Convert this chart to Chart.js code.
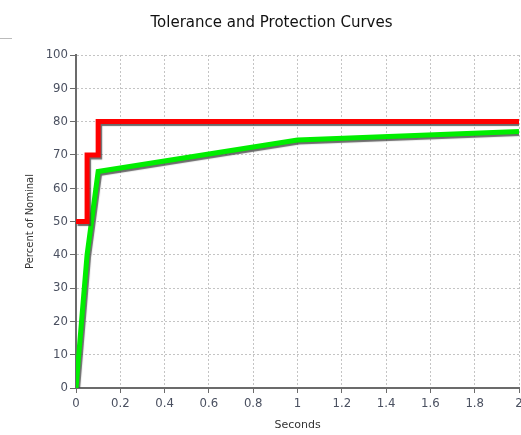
<!DOCTYPE html>
<html>
<head>
<meta charset="utf-8">
<script src="https://cdn.jsdelivr.net/npm/chart.js@4/dist/chart.umd.min.js"></script>
<style>
  html, body { margin: 0; padding: 0; background: #fff; }
  #wrap { position: relative; width: 521px; height: 435px; overflow: hidden; }
  #rule { position: absolute; left: 0; top: 38px; width: 12px; height: 1px; background: #bbb; }
</style>
</head>
<body>
<div id="wrap">
  <canvas id="curveChart" width="521" height="435"></canvas>
  <div id="rule"></div>
</div>
<script>
'use strict';

/* --------------------------------------------------------------------------
   DATA
   -------------------------------------------------------------------------- */
const xTicks = [0, 0.2, 0.4, 0.6, 0.8, 1, 1.2, 1.4, 1.6, 1.8, 2];
const yTicks = [0, 10, 20, 30, 40, 50, 60, 70, 80, 90, 100];

// Protection curve (stepped)
const protSeconds = [0, 0.05, 0.05, 0.1, 0.1, 2];
const protPercent = [50, 50, 70, 70, 80, 80];

// Tolerance curve
const tolSeconds = [0, 0.05, 0.1, 1, 2];
const tolPercent = [0, 40, 65, 74.5, 77];

const toPoints = (xs, ys) => xs.map((x, i) => ({ x: x, y: ys[i] }));

const COLORS = {
    red: '#ff0000',
    green: '#00ee00',
    axis: '#6b6b6b',
    grid: '#c4c4c4',
    tick: '#4a5060',
};

const TICK_FONT = { family: '"DejaVu Sans Condensed", "Liberation Sans Narrow", sans-serif', size: 13 };

/* --------------------------------------------------------------------------
   Drop shadow under each curve
   -------------------------------------------------------------------------- */
const lineShadow = {
    id: 'lineShadow',
    beforeDatasetDraw(chart) {
        const ctx = chart.ctx;
        ctx.save();
        ctx.shadowColor = 'rgba(70,70,70,0.8)';
        ctx.shadowOffsetX = 1.5;
        ctx.shadowOffsetY = 2;
        ctx.shadowBlur = 1;
    },
    afterDatasetDraw(chart) {
        chart.ctx.restore();
    },
};

/* --------------------------------------------------------------------------
   CHART
   -------------------------------------------------------------------------- */
function renderCurveChart() {
    const ctx = document.getElementById('curveChart').getContext('2d');
    new Chart(ctx, {
        type: 'line',
        data: {
            datasets: [
                { label: 'Protection', data: toPoints(protSeconds, protPercent), borderColor: COLORS.red, borderWidth: 5, pointRadius: 0, tension: 0, fill: false, borderJoinStyle: 'miter', borderCapStyle: 'butt' },
                { label: 'Tolerance', data: toPoints(tolSeconds, tolPercent), borderColor: COLORS.green, borderWidth: 5, pointRadius: 0, tension: 0, fill: false, borderJoinStyle: 'miter', borderCapStyle: 'butt' },
            ],
        },
        plugins: [lineShadow],
        options: {
            responsive: false, animation: false,
            layout: { autoPadding: false, padding: { top: 0, right: 2, bottom: 0, left: 24 } },
            plugins: {
                legend: { display: false },
                tooltip: { enabled: false },
                title: {
                    display: true, text: 'Tolerance and Protection Curves', color: '#111',
                    font: { family: '"DejaVu Sans", Verdana, sans-serif', size: 15, weight: 'normal' },
                    padding: { top: 14, bottom: 23 },
                },
            },
            scales: {
                x: {
                    type: 'linear', min: 0, max: 2,
                    afterBuildTicks: s => { s.ticks = xTicks.map(v => ({ value: v })); },
                    afterFit: s => { s.height = 47; s.paddingLeft = 0; s.paddingRight = 0; },
                    ticks: { color: COLORS.tick, font: TICK_FONT, padding: 3, maxRotation: 0, callback: v => String(v) },
                    grid: { color: COLORS.grid, tickColor: COLORS.axis, tickBorderDash: [], tickLength: 5 },
                    border: { color: COLORS.axis, width: 2, dash: [2, 2] },
                    title: { display: true, text: 'Seconds', color: '#333', font: { family: '"DejaVu Sans", Verdana, sans-serif', size: 11 }, padding: { top: 2, bottom: 3 } },
                },
                y: {
                    min: 0, max: 100,
                    afterBuildTicks: s => { s.ticks = yTicks.map(v => ({ value: v })); },
                    afterFit: s => { s.width = 52; s.paddingTop = 0; s.paddingBottom = 0; },
                    ticks: { color: COLORS.tick, font: TICK_FONT, padding: 2 },
                    grid: { color: COLORS.grid, tickColor: COLORS.axis, tickBorderDash: [], tickLength: 6 },
                    border: { color: COLORS.axis, width: 2, dash: [2, 2] },
                    title: { display: true, text: 'Percent of Nominal', color: '#333', font: { family: '"DejaVu Sans", Verdana, sans-serif', size: 10 }, padding: { top: 0, bottom: 0 } },
                },
            },
        },
    });
}

renderCurveChart();
</script>
</body>
</html>
